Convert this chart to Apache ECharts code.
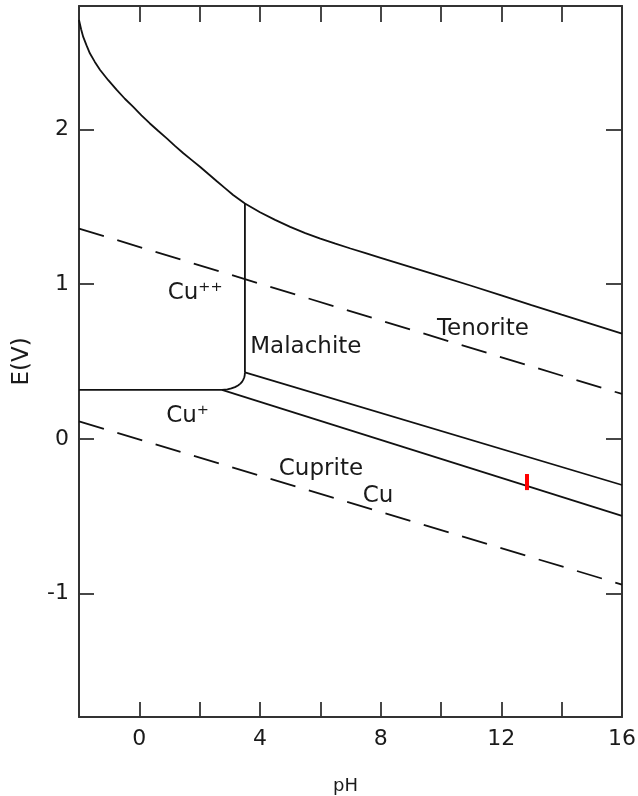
<!DOCTYPE html>
<html>
<head>
<meta charset="utf-8">
<script src="https://cdn.jsdelivr.net/npm/echarts@6/dist/echarts.min.js"></script>
<style>
  html, body { margin: 0; padding: 0; background: #fff; }
  #chart { width: 638px; height: 796px; }
</style>
</head>
<body>
<div id="chart"></div>
<script>
// pH axis range and labelled ticks
const phRange = [-2, 16];
const phLabels = [0, 4, 8, 12, 16];
// E (V) axis range and labelled ticks
const eRange = [-1.8, 2.8];
const eLabels = [-1, 0, 1, 2];

// Upper stability limit (curved solid line)
const upperLimit = [
  [-2, 2.709], [-1.93, 2.65], [-1.86, 2.60], [-1.75, 2.545], [-1.64, 2.494],
  [-1.48, 2.44], [-1.30, 2.386], [-1.03, 2.32], [-0.75, 2.257], [-0.48, 2.20],
  [-0.21, 2.149], [0.07, 2.093], [0.35, 2.04], [0.63, 1.991], [0.91, 1.944],
  [1.18, 1.895], [1.46, 1.847], [1.74, 1.803], [2.01, 1.76], [2.29, 1.713],
  [2.56, 1.668], [2.84, 1.622], [3.11, 1.577], [3.5, 1.522], [4.0, 1.466],
  [4.5, 1.416], [5.0, 1.371], [5.5, 1.331], [6.0, 1.295], [6.5, 1.262],
  [7.0, 1.231], [7.5, 1.201], [8.0, 1.171], [9.0, 1.111], [10.0, 1.051],
  [11.0, 0.99], [12.0, 0.928], [13.0, 0.865], [14.0, 0.803], [15.0, 0.742],
  [16, 0.68]
];
// Cu++ / Cu+ horizontal boundary
const cuIonBoundary = [[-2, 0.316], [2.74, 0.316]];
// Rounded corner joining the Cu+ boundary to the malachite edge
const cornerArc = [
  [2.74, 0.316], [2.92, 0.319], [3.05, 0.326], [3.17, 0.334], [3.27, 0.345],
  [3.35, 0.357], [3.41, 0.37], [3.45, 0.384], [3.48, 0.398], [3.495, 0.414], [3.5, 0.43]
];
// Cu++ / Malachite vertical boundary
const malachiteEdge = [[3.5, 0.43], [3.5, 1.522]];
// Tenorite / Cuprite boundary
const tenoriteCuprite = [[3.5, 0.43], [16, -0.299]];
// Cuprite / Cu boundary
const cupriteCu = [[2.74, 0.316], [16, -0.499]];
// Water stability limits (dashed)
const oxygenLine = [[-2, 1.36], [16, 0.29]];
const hydrogenLine = [[-2, 0.113], [16, -0.943]];
// Red marker on the cuprite / Cu boundary
const redMark = [[12.85, -0.228], [12.85, -0.332]];

// Field names and their positions [pH, E]
const fieldNames = ['Cu\u207A\u207A', 'Cu\u207A', 'Malachite', 'Tenorite', 'Cuprite', 'Cu'];
const fieldPos = [[1.85, 0.94], [1.6, 0.147], [5.52, 0.594], [11.39, 0.71], [6.02, -0.195], [7.91, -0.37]];

const ink = '#111';
const textColor = '#1a1a1a';
const font = 'DejaVu Sans';

function solid(data, extra) {
  return Object.assign({
    type: 'line', data: data, symbol: 'none', silent: true, smooth: false,
    lineStyle: { color: ink, width: 1.8 }, z: 3
  }, extra || {});
}

const chart = echarts.init(document.getElementById('chart'), null, { renderer: 'canvas' });

const axisLineStyle = { show: true, onZero: false, lineStyle: { color: '#333', width: 2 } };
const tickStyle = len => ({ show: true, inside: true, length: len, lineStyle: { color: '#333', width: 1.8 } });

chart.setOption({
  animation: false,
  backgroundColor: '#fff',
  grid: { left: 79, right: 16, top: 6, bottom: 79, containLabel: false, outerBoundsMode: 'none' },
  xAxis: [
    {
      type: 'value', min: phRange[0], max: phRange[1], interval: 2,
      position: 'bottom',
      name: 'pH', nameLocation: 'middle', nameGap: 60,
      nameTextStyle: { fontFamily: font, fontSize: 18, color: textColor, padding: [0, 10, 0, 0] },
      axisLine: axisLineStyle,
      axisTick: tickStyle(15),
      axisLabel: {
        margin: 11, fontFamily: font, fontSize: 22, color: textColor,
        formatter: v => (phLabels.indexOf(v) >= 0 ? String(v) : '')
      },
      splitLine: { show: false }
    },
    {
      type: 'value', min: phRange[0], max: phRange[1], interval: 2,
      position: 'top',
      axisLine: axisLineStyle,
      axisTick: tickStyle(16),
      axisLabel: { show: false },
      splitLine: { show: false }
    }
  ],
  yAxis: [
    {
      type: 'value', min: eRange[0], max: eRange[1],
      position: 'left',
      name: 'E(V)', nameLocation: 'middle', nameGap: 45, nameRotate: 90,
      nameTextStyle: { fontFamily: font, fontSize: 23, color: textColor },
      axisLine: axisLineStyle,
      axisTick: tickStyle(15),
      axisLabel: {
        margin: 10, fontFamily: font, fontSize: 22, color: textColor,
        showMinLabel: false, showMaxLabel: false,
        formatter: v => (eLabels.indexOf(Math.round(v * 1000) / 1000) >= 0 ? String(Math.round(v)) : '')
      },
      splitLine: { show: false }
    },
    {
      type: 'value', min: eRange[0], max: eRange[1],
      position: 'right',
      axisLine: axisLineStyle,
      axisTick: tickStyle(16),
      axisLabel: { show: false },
      splitLine: { show: false }
    }
  ],
  series: [
    solid(upperLimit),
    solid(cuIonBoundary),
    solid(cornerArc),
    solid(malachiteEdge),
    solid(tenoriteCuprite),
    solid(cupriteCu),
    solid(oxygenLine, { lineStyle: { color: ink, width: 1.8, type: [26, 14] } }),
    solid(hydrogenLine, { lineStyle: { color: ink, width: 1.8, type: [26, 14] } }),
    solid(redMark, { lineStyle: { color: '#ff0000', width: 4 }, z: 5 }),
    {
      type: 'scatter', silent: true, symbolSize: 0, z: 6,
      itemStyle: { opacity: 1 },
      data: fieldPos.map((p, i) => ({ value: p, name: fieldNames[i] })),
      label: {
        show: true, position: 'inside', formatter: d => d.name,
        fontFamily: font, fontSize: 23, color: textColor, textBorderWidth: 0, opacity: 1
      }
    }
  ]
});
</script>
</body>
</html>
